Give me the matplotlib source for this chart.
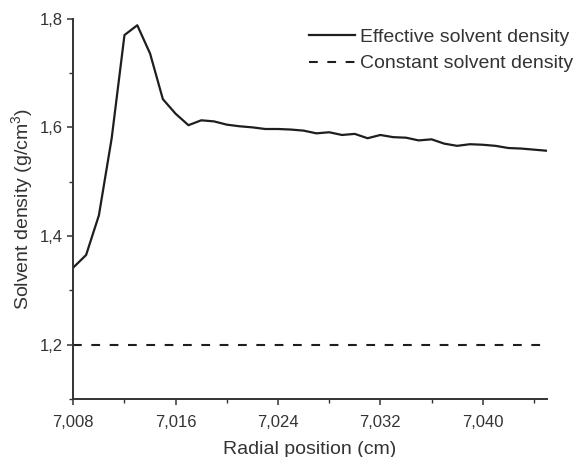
import matplotlib
matplotlib.use("Agg")
import matplotlib.pyplot as plt
from matplotlib.ticker import FuncFormatter, MultipleLocator

plt.rcParams['font.family'] = ['Liberation Sans', 'DejaVu Sans']
plt.rcParams['mathtext.fontset'] = 'custom'
plt.rcParams['mathtext.rm'] = 'Liberation Sans'
plt.rcParams['mathtext.it'] = 'Liberation Sans:italic'

# Радиальная позиция (см) и эффективная плотность растворителя (г/см3)
radial_pos = [7.008, 7.009, 7.010, 7.011, 7.012, 7.013, 7.014, 7.015, 7.016, 7.017,
              7.018, 7.019, 7.020, 7.021, 7.022, 7.023, 7.024, 7.025, 7.026, 7.027,
              7.028, 7.029, 7.030, 7.031, 7.032, 7.033, 7.034, 7.035, 7.036, 7.037,
              7.038, 7.039, 7.040, 7.041, 7.042, 7.043, 7.044, 7.045]
eff_density = [1.342, 1.365, 1.438, 1.580, 1.770, 1.788, 1.736, 1.652, 1.625, 1.604,
               1.613, 1.611, 1.605, 1.602, 1.600, 1.597, 1.597, 1.596, 1.594, 1.589,
               1.591, 1.586, 1.588, 1.580, 1.586, 1.582, 1.581, 1.576, 1.578, 1.570,
               1.566, 1.569, 1.568, 1.566, 1.562, 1.561, 1.559, 1.557]
const_density = 1.2

text_col = '#333333'
line_col = '#1e1e1e'

fig = plt.figure(figsize=(5.79, 4.57), dpi=100)
ax = fig.add_axes([0.1266, 0.127, 0.8176, 0.832])

ax.plot(radial_pos, eff_density, color=line_col, linewidth=1.6,
        label='Effective solvent density')
ax.plot([radial_pos[0], radial_pos[-1]], [const_density, const_density],
        color=line_col, linewidth=1.5, linestyle=(0, (4.2, 4.6)),
        label='Constant solvent density')

ax.set_xlim(7.008, 7.045)
ax.set_ylim(1.1, 1.8)

ax.xaxis.set_major_locator(MultipleLocator(0.008))
ax.xaxis.set_minor_locator(MultipleLocator(0.004))
ax.yaxis.set_major_locator(MultipleLocator(0.2))
ax.yaxis.set_minor_locator(MultipleLocator(0.1))
ax.xaxis.set_major_formatter(FuncFormatter(lambda v, p: f"{v:.3f}".replace('.', ',')))
ax.yaxis.set_major_formatter(FuncFormatter(lambda v, p: f"{v:.1f}".replace('.', ',')))

for s in ['top', 'right']:
    ax.spines[s].set_visible(False)
for s in ['left', 'bottom']:
    ax.spines[s].set_linewidth(1.4)
    ax.spines[s].set_color('#333333')

ax.tick_params(which='major', direction='out', length=4.3, width=1.1,
               color='#333333', labelsize=12, labelcolor=text_col)
ax.tick_params(which='minor', direction='out', length=2.6, width=1.0, color='#333333')
ax.tick_params(axis='x', which='major', pad=7)
ax.tick_params(axis='y', which='major', pad=3.5)

ax.set_xlabel('Radial position (cm)', fontsize=14, color=text_col, labelpad=8.5)
ax.set_ylabel('Solvent density (g/cm$^3$)', fontsize=14, color=text_col, labelpad=3)

leg = ax.legend(loc='upper right', bbox_to_anchor=(0.99, 0.938),
                bbox_transform=fig.transFigure, frameon=False, fontsize=14,
                handlelength=2.4, handletextpad=0.25, labelspacing=0.45,
                borderpad=0, borderaxespad=0)
for t in leg.get_texts():
    t.set_color(text_col)

fig.savefig('out.png', dpi=100)
